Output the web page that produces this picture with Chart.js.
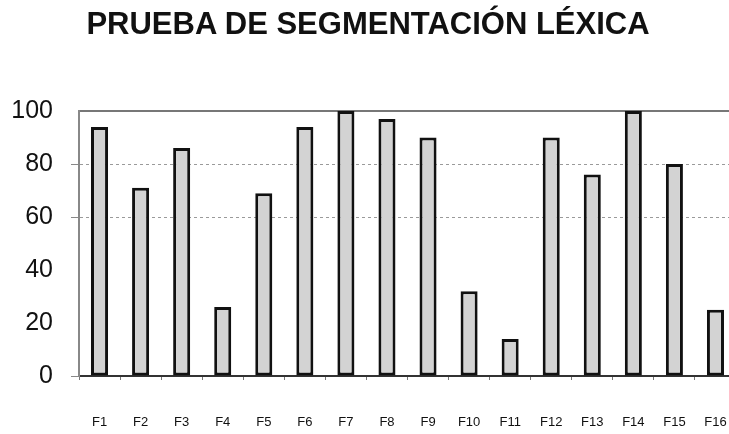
<!DOCTYPE html>
<html>
<head>
<meta charset="utf-8">
<script src="https://cdn.jsdelivr.net/npm/chart.js@4/dist/chart.umd.min.js"></script>
<style>
  html, body { margin: 0; padding: 0; background: #fff; overflow: hidden; width: 729px; height: 434px; }
  #wrap { position: absolute; left: 0; top: 0; width: 736px; height: 434px; }
  #title { position: absolute; left: 0; top: 8px; width: 736px; text-align: center;
    font: bold 31px "Liberation Sans", Arial, sans-serif; line-height: 31px; color: #111; }
</style>
</head>
<body>
<div id="wrap">
  <canvas id="c" width="736" height="434"></canvas>
  <div id="title">PRUEBA DE SEGMENTACIÓN LÉXICA</div>
</div>
<script>
const categories = ["F1","F2","F3","F4","F5","F6","F7","F8","F9","F10","F11","F12","F13","F14","F15","F16"];
const values = [94, 71, 86, 26, 69, 94, 100, 97, 90, 32, 14, 90, 76, 100, 80, 25];
const yTicks = [0, 20, 40, 60, 80, 100];

new Chart(document.getElementById('c'), {
  type: 'bar',
  data: {
    labels: categories,
    datasets: [{
      data: values,
      backgroundColor: '#d3d3d3',
      borderColor: '#111',
      borderWidth: 3,
      borderSkipped: false,
      barPercentage: 0.415,
      categoryPercentage: 1.0
    }]
  },
  options: {
    responsive: false,
    animation: false,
    layout: { padding: { top: 111, left: 0, right: 0, bottom: 0 } },
    plugins: { legend: { display: false }, title: { display: false }, tooltip: { enabled: false } },
    scales: {
      x: {
        position: 'bottom',
        afterFit: s => { s.height = 58; s.paddingLeft = 0; s.paddingRight = 0; },
        grid: { offset: true, drawOnChartArea: false, drawTicks: true, tickLength: 4, color: '#777' },
        border: { display: true, color: '#333', width: 2 },
        ticks: { color: '#111', padding: 35, font: { family: '"Liberation Sans", Arial, sans-serif', size: 13 } }
      },
      xTop: {
        position: 'top',
        afterFit: s => { s.height = 0; s.paddingLeft = 0; s.paddingRight = 0; },
        grid: { display: false, drawTicks: false },
        border: { display: true, color: '#777', width: 2 },
        ticks: { display: false }
      },
      y: {
        min: 0, max: 100,
        afterFit: s => { s.width = 79; },
        afterBuildTicks: s => { s.ticks = yTicks.map(v => ({ value: v })); },
        grid: {
          drawTicks: true, tickLength: 8,
          color: ctx => {
            const v = ctx.tick && ctx.tick.value;
            if (v === 60 || v === 80) return '#9a9a9a';
            return 'rgba(0,0,0,0)';
          },
          tickColor: ctx => {
            const v = ctx.tick && ctx.tick.value;
            if (v === 0 || v === 60 || v === 80) return '#888';
            return 'rgba(0,0,0,0)';
          }
        },
        border: { display: true, color: '#888', width: 2, dash: [3, 3] },
        ticks: { color: '#111', padding: 18, font: { family: '"Liberation Sans", Arial, sans-serif', size: 25 } }
      }
    }
  }
});
</script>
</body>
</html>
